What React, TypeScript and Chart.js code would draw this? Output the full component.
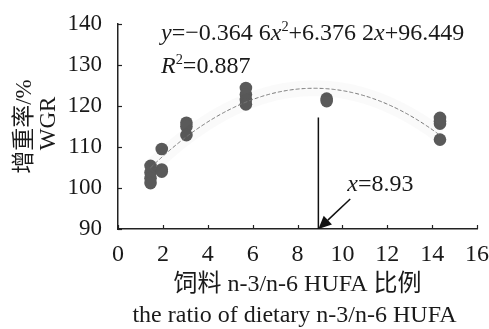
import React, { useEffect, useRef } from "react";
import { Chart, registerables } from "chart.js";

Chart.register(...registerables);

// ---- data ----
const ratioX = [1.45, 1.45, 1.45, 1.45, 1.95, 1.95, 1.95, 3.05, 3.05, 3.05, 5.7, 5.7, 5.7, 5.7, 9.3, 9.3, 14.35, 14.35, 14.35, 14.35];
const wgrY = [105.4, 103.8, 102.4, 101.2, 109.5, 104.5, 104.0, 115.9, 115.0, 112.9, 124.4, 122.8, 121.5, 120.4, 121.8, 121.2, 117.1, 116.3, 115.7, 111.8];
const fitCoef = [-0.3646, 6.3762, 96.449]; // a, b, c of fitted quadratic
const fitRange = [1.45, 14.35];
const optimumX = 8.93;
const markerLineY = [117.2, 90];
const arrowFrom = [10.35, 97.3];
const xTicks = [0, 2, 4, 6, 8, 10, 12, 14, 16];
const yTicks = [90, 100, 110, 120, 130, 140];
const yTitle = ["增重率/%", "WGR"];
const xTitle = ["饲料 n-3/n-6 HUFA 比例", "the ratio of dietary n-3/n-6 HUFA"];

const SERIF = '"Liberation Serif", "Times New Roman", "Noto Sans CJK SC", serif';
const MIX = '"Liberation Serif", "Noto Sans CJK SC", serif';

function fitCurve() {
  const pts: { x: number; y: number }[] = [];
  const [a, b, c] = fitCoef;
  for (let x = fitRange[0]; x <= fitRange[1] + 1e-9; x += 0.05) {
    pts.push({ x, y: a * x * x + b * x + c });
  }
  return pts;
}

type Run = { t: string; italic?: boolean; sup?: boolean };

function drawRuns(ctx: CanvasRenderingContext2D, runs: Run[], x: number, y: number, size: number) {
  let cx = x;
  for (const r of runs) {
    const s = r.sup ? size * 0.6 : size;
    ctx.font = `${r.italic ? "italic " : ""}${s}px ${SERIF}`;
    ctx.fillText(r.t, cx, r.sup ? y - size * 0.38 : y);
    cx += ctx.measureText(r.t).width;
  }
}

const overlayPlugin = {
  id: "overlay",
  afterDatasetsDraw(chart: any) {
    const { ctx, chartArea, scales } = chart;
    const xs = scales.x;
    const ys = scales.y;
    ctx.save();
    // inward tick marks
    ctx.strokeStyle = "#222";
    ctx.lineWidth = 1.2;
    xTicks.forEach((v) => {
      const px = Math.round(xs.getPixelForValue(v)) + 0.5;
      ctx.beginPath();
      ctx.moveTo(px, chartArea.bottom);
      ctx.lineTo(px, chartArea.bottom - 4);
      ctx.stroke();
    });
    yTicks.forEach((v) => {
      const py = Math.round(ys.getPixelForValue(v)) + 0.5;
      ctx.beginPath();
      ctx.moveTo(chartArea.left, py);
      ctx.lineTo(chartArea.left + 4, py);
      ctx.stroke();
    });

    // vertical marker
    const vx = xs.getPixelForValue(optimumX);
    ctx.strokeStyle = "#111";
    ctx.lineWidth = 1.5;
    ctx.beginPath();
    ctx.moveTo(vx, ys.getPixelForValue(markerLineY[0]));
    ctx.lineTo(vx, ys.getPixelForValue(markerLineY[1]));
    ctx.stroke();

    // arrow
    const ax0 = xs.getPixelForValue(arrowFrom[0]);
    const ay0 = ys.getPixelForValue(arrowFrom[1]);
    const ax1 = vx;
    const ay1 = ys.getPixelForValue(markerLineY[1]);
    const ang = Math.atan2(ay1 - ay0, ax1 - ax0);
    const hl = 13;
    const hw = 6;
    const bx = ax1 - hl * Math.cos(ang);
    const by = ay1 - hl * Math.sin(ang);
    ctx.beginPath();
    ctx.moveTo(ax0, ay0);
    ctx.lineTo(bx, by);
    ctx.stroke();
    ctx.fillStyle = "#111";
    ctx.beginPath();
    ctx.moveTo(ax1, ay1);
    ctx.lineTo(bx + hw * Math.sin(ang), by - hw * Math.cos(ang));
    ctx.lineTo(bx - hw * Math.sin(ang), by + hw * Math.cos(ang));
    ctx.closePath();
    ctx.fill();

    // texts
    ctx.fillStyle = "#1a1a1a";
    ctx.textBaseline = "alphabetic";
    ctx.textAlign = "left";
    const size = 24;
    drawRuns(
      ctx,
      [
        { t: "y", italic: true },
        { t: "=−0.364 6" },
        { t: "x", italic: true },
        { t: "2", sup: true },
        { t: "+6.376 2" },
        { t: "x", italic: true },
        { t: "+96.449" },
      ],
      chartArea.left + 43,
      chartArea.top + 16,
      size
    );
    drawRuns(
      ctx,
      [{ t: "R", italic: true }, { t: "2", sup: true }, { t: "=0.887" }],
      chartArea.left + 43,
      chartArea.top + 49,
      size
    );
    drawRuns(ctx, [{ t: "x", italic: true }, { t: "=8.93" }], ax0 - 3, ay0 - 8, 24);

    // axis titles
    ctx.textAlign = "center";
    ctx.textBaseline = "middle";
    ctx.font = `23px ${MIX}`;
    const cy = (chartArea.top + chartArea.bottom) / 2;
    ctx.save();
    ctx.translate(25, cy);
    ctx.rotate(-Math.PI / 2);
    ctx.fillText(yTitle[0], 0, 0);
    ctx.restore();
    ctx.save();
    ctx.translate(49, cy - 3);
    ctx.rotate(-Math.PI / 2);
    ctx.fillText(yTitle[1], 0, 0);
    ctx.restore();
    const cx = (chartArea.left + chartArea.right) / 2;
    ctx.font = `24px ${MIX}`;
    ctx.fillText(xTitle[0], cx, 285);
    ctx.fillText(xTitle[1], cx - 3, 316);
    ctx.restore();
  },
};

export default function App() {
  const ref = useRef<HTMLCanvasElement | null>(null);
  useEffect(() => {
    if (!ref.current) return;
    const chart = new Chart(ref.current, {
      type: "scatter",
      data: {
        datasets: [
          {
            type: "line",
            data: fitCurve(),
            borderColor: "rgba(0,0,0,0.02)",
            borderWidth: 16,
            pointRadius: 0,
            fill: false,
          } as any,
          {
            type: "line",
            data: fitCurve(),
            borderColor: "#7a7a7a",
            borderWidth: 1,
            borderDash: [4, 2],
            pointRadius: 0,
            fill: false,
          } as any,
          {
            data: ratioX.map((x, i) => ({ x, y: wgrY[i] })),
            backgroundColor: "#5a5a5a",
            borderColor: "#5a5a5a",
            borderWidth: 0,
            pointRadius: 6.3,
          },
        ],
      },
      options: {
        animation: false,
        responsive: false,
        maintainAspectRatio: false,
        layout: { padding: { top: 24, right: 12, left: 0, bottom: 0 } },
        plugins: { legend: { display: false }, tooltip: { enabled: false } },
        scales: {
          x: {
            type: "linear",
            min: 0,
            max: 16,
            afterBuildTicks: (s: any) => {
              s.ticks = xTicks.map((v) => ({ value: v }));
            },
            afterFit: (s: any) => {
              s.height = 100;
              s.paddingLeft = 0;
              s.paddingRight = 0;
            },
            ticks: {
              font: { family: SERIF, size: 24 },
              color: "#1a1a1a",
              padding: 11,
              maxRotation: 0,
              autoSkip: false,
            },
            grid: { display: false, drawTicks: false },
            border: { display: true, color: "#222", width: 1.5 },
          },
          y: {
            type: "linear",
            min: 90,
            max: 140,
            afterBuildTicks: (s: any) => {
              s.ticks = yTicks.map((v) => ({ value: v }));
            },
            afterFit: (s: any) => {
              s.width = 118;
              s.paddingTop = 0;
              s.paddingBottom = 0;
            },
            ticks: {
              font: { family: SERIF, size: 23 },
              color: "#1a1a1a",
              padding: 16,
              autoSkip: false,
            },
            grid: { display: false, drawTicks: false },
            border: { display: true, color: "#222", width: 1.5 },
          },
        },
      },
      plugins: [overlayPlugin],
    });
    return () => chart.destroy();
  }, []);
  return (
    <div style={{ position: "fixed", left: 0, top: 0, width: 489, height: 329, background: "#fff" }}>
      <canvas ref={ref} width={489} height={329} style={{ display: "block", width: 489, height: 329 }} />
    </div>
  );
}
